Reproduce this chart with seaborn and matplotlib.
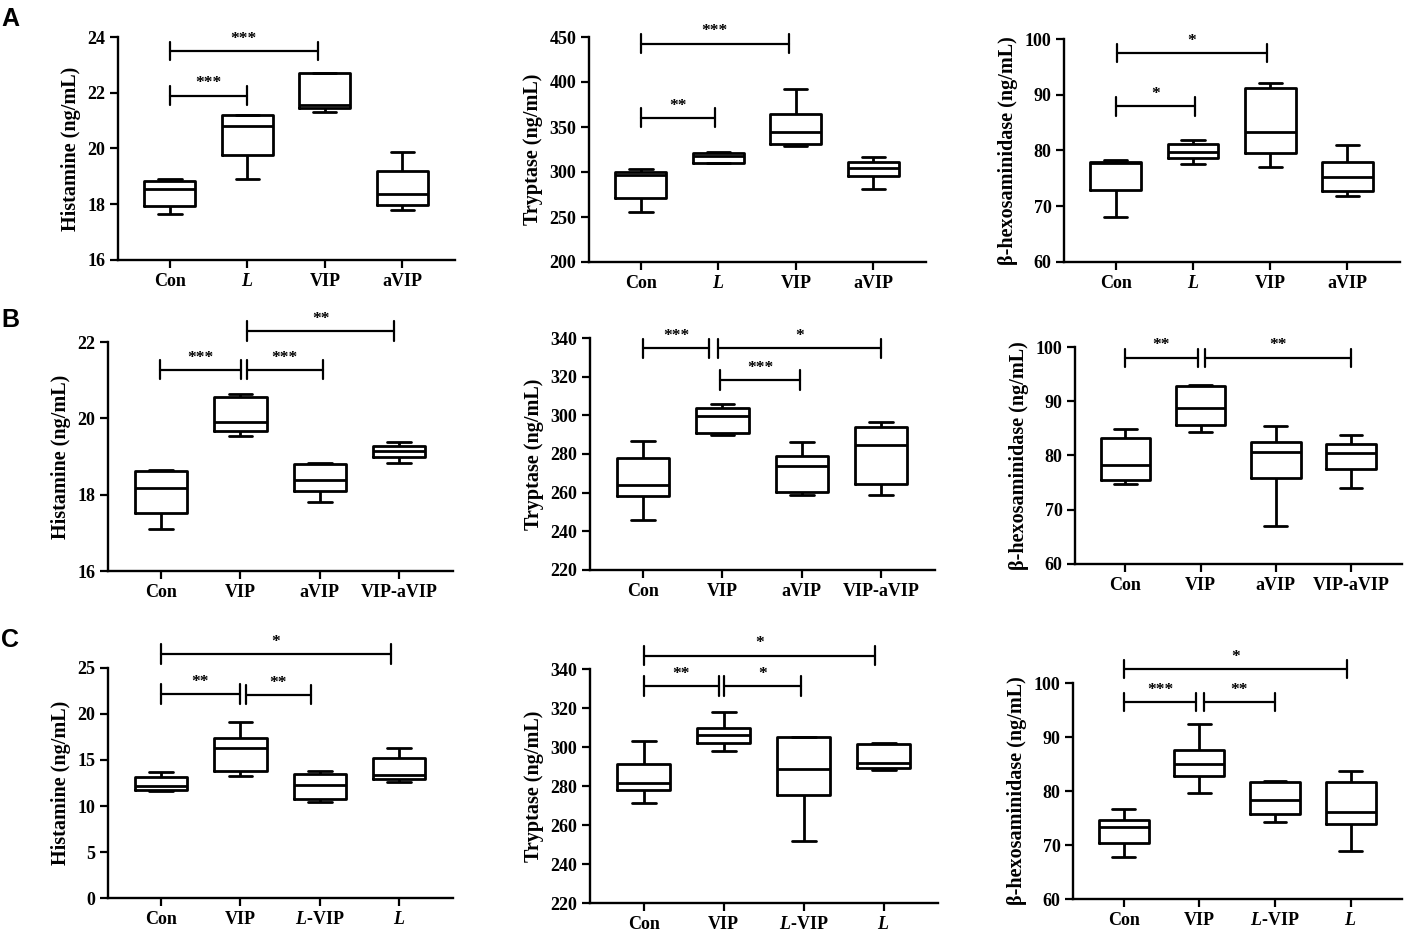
import matplotlib
matplotlib.use("Agg")
import matplotlib.pyplot as plt
import seaborn as sns
import pandas as pd

# five values per group: min, q1, median, q3, max
groups_a = ["Con", "L", "VIP", "aVIP"]
groups_b = ["Con", "VIP", "aVIP", "VIP-aVIP"]
groups_c = ["Con", "VIP", "L-VIP", "L"]

ticks_a = ["Con", "$L$", "VIP", "aVIP"]
ticks_b = ["Con", "VIP", "aVIP", "VIP-aVIP"]
ticks_c = ["Con", "VIP", "$L$-VIP", "$L$"]

hist_a = [[17.64, 17.92, 18.55, 18.85, 18.91],
          [18.91, 19.77, 20.79, 21.19, 21.19],
          [21.31, 21.46, 21.57, 22.71, 22.71],
          [17.80, 17.96, 18.37, 19.19, 19.87]]
tryp_a = [[255.4, 270.9, 296.8, 300.4, 303.0],
          [309.5, 309.7, 317.4, 320.8, 322.6],
          [329.0, 331.5, 344.0, 364.3, 392.0],
          [281.2, 295.0, 304.1, 310.8, 316.3]]
hexo_a = [[68.06, 73.0, 77.8, 77.97, 78.33],
          [77.5, 78.6, 79.7, 81.25, 81.9],
          [76.96, 79.64, 83.4, 91.16, 92.06],
          [71.76, 72.66, 75.28, 77.85, 80.96]]

hist_b = [[17.11, 17.52, 18.17, 18.63, 18.65],
          [19.55, 19.67, 19.90, 20.57, 20.65],
          [17.81, 18.09, 18.39, 18.81, 18.83],
          [18.84, 18.99, 19.14, 19.28, 19.39]]
tryp_b = [[245.7, 258.1, 264.0, 277.8, 286.8],
          [289.6, 291.0, 299.4, 303.6, 306.1],
          [258.7, 260.6, 274.0, 279.0, 286.1],
          [258.7, 264.5, 284.6, 294.1, 296.8]]
hexo_b = [[74.71, 75.44, 78.32, 83.28, 84.94],
          [84.26, 85.55, 88.8, 92.9, 92.95],
          [66.93, 75.81, 80.59, 82.49, 85.36],
          [73.97, 77.59, 80.4, 82.18, 83.77]]

hist_c = [[11.59, 11.74, 12.14, 13.12, 13.73],
          [13.30, 13.84, 16.34, 17.36, 19.13],
          [10.47, 10.80, 12.32, 13.51, 13.80],
          [12.57, 12.93, 13.41, 15.18, 16.34]]
tryp_c = [[271.1, 277.8, 281.4, 291.3, 303.0],
          [297.8, 301.9, 305.9, 310.0, 318.1],
          [251.9, 275.4, 288.7, 304.9, 305.2],
          [288.2, 289.1, 291.7, 301.4, 301.9]]
hexo_c = [[67.69, 70.34, 73.35, 74.65, 76.62],
          [79.69, 82.83, 84.92, 87.57, 92.37],
          [74.22, 75.75, 78.28, 81.72, 81.91],
          [68.80, 73.85, 76.06, 81.66, 83.69]]

# significance brackets: start, end (category index), height, stars
sig_hist_a = [(0, 1.91, 23.5, "***"), (0, 0.99, 21.9, "***")]
sig_tryp_a = [(0, 1.91, 442.6, "***"), (0, 0.95, 360.3, "**")]
sig_hexo_a = [(0.01, 1.96, 97.5, "*"), (0, 1.03, 87.9, "*")]
sig_hist_b = [(1.08, 2.94, 22.29, "**"), (-0.01, 1.01, 21.27, "***"), (1.08, 2.04, 21.27, "***")]
sig_tryp_b = [(0, 0.83, 334.6, "***"), (0.95, 3.0, 334.6, "*"), (0.975, 1.975, 318.4, "***")]
sig_hexo_b = [(0, 0.96, 98.04, "**"), (1.06, 3.0, 98.04, "**")]
sig_hist_c = [(0, 2.90, 26.52, "*"), (0, 0.99, 22.17, "**"), (1.07, 1.89, 22.1, "**")]
sig_tryp_c = [(0, 2.89, 346.9, "*"), (0, 0.94, 331.4, "**"), (1.01, 1.97, 331.4, "*")]
sig_hexo_c = [(0, 2.95, 102.6, "*"), (0, 0.96, 96.43, "***"), (1.06, 2.0, 96.43, "**")]

sns.set_theme(style="ticks")
plt.rcParams["font.family"] = ["Liberation Serif", "DejaVu Serif"]
plt.rcParams["font.weight"] = "bold"
plt.rcParams["axes.labelweight"] = "bold"
plt.rcParams["text.color"] = "black"
plt.rcParams["axes.labelcolor"] = "black"
plt.rcParams["mathtext.fontset"] = "custom"
plt.rcParams["mathtext.it"] = "Liberation Serif:italic:bold"
plt.rcParams["mathtext.rm"] = "Liberation Serif:bold"

W, H = 1406, 930
fig = plt.figure(figsize=(W / 100, H / 100), dpi=100)


def make_df(groups, values):
    rows = [(g, v) for g, vals in zip(groups, values) for v in vals]
    return pd.DataFrame(rows, columns=["group", "value"])


def panel(px, groups, ticks, values, ylab, yticks, sigs):
    left, right, top, bottom = px
    ax = fig.add_axes([left / W, 1 - bottom / H, (right - left) / W, (bottom - top) / H])
    df = make_df(groups, values)
    sns.boxplot(data=df, x="group", y="value", order=groups, ax=ax,
                whis=(0, 100), width=0.66, fill=False, color="black",
                linewidth=2.0, capwidths=0.3)
    ax.set_xlim(-0.67, 3.68)
    ax.set_ylim(yticks[0], yticks[-1])
    ax.set_yticks(yticks)
    ax.set_xticks(range(len(groups)))
    ax.set_xticklabels(ticks)
    ax.set_xlabel("")
    ax.set_ylabel(ylab, fontsize=14.5, fontweight="bold", labelpad=5)
    ax.tick_params(axis="both", labelsize=13, length=6, width=1.6, colors="black", pad=3)
    for lab in ax.get_xticklabels() + ax.get_yticklabels():
        lab.set_fontweight("bold")
    sns.despine(ax=ax)
    for s in ["left", "bottom"]:
        ax.spines[s].set_linewidth(1.7)
        ax.spines[s].set_color("black")
    rng = yticks[-1] - yticks[0]
    h = 0.042 * rng
    for x1, x2, y, txt in sigs:
        ax.plot([x1, x2], [y, y], color="black", lw=1.6, clip_on=False)
        ax.plot([x1, x1], [y - h, y + h], color="black", lw=1.6, clip_on=False)
        ax.plot([x2, x2], [y - h, y + h], color="black", lw=1.6, clip_on=False)
        ax.annotate(txt, xy=((x1 + x2) / 2, y), xytext=(0, 3), textcoords="offset points",
                    ha="center", va="bottom", fontsize=12.5, fontweight="bold",
                    color="black", annotation_clip=False)
    return ax


hist_lab = "Histamine (ng/mL)"
tryp_lab = "Tryptase (ng/mL)"
hexo_lab = "β-hexosaminidase (ng/mL)"

panel((118, 455, 37, 260), groups_a, ticks_a, hist_a, hist_lab, [16, 18, 20, 22, 24], sig_hist_a)
panel((589, 926, 37, 262), groups_a, ticks_a, tryp_a, tryp_lab, [200, 250, 300, 350, 400, 450], sig_tryp_a)
panel((1064, 1400, 39, 262), groups_a, ticks_a, hexo_a, hexo_lab, [60, 70, 80, 90, 100], sig_hexo_a)

panel((108, 453, 342, 571), groups_b, ticks_b, hist_b, hist_lab, [16, 18, 20, 22], sig_hist_b)
panel((590, 935, 338, 570), groups_b, ticks_b, tryp_b, tryp_lab, [220, 240, 260, 280, 300, 320, 340], sig_tryp_b)
panel((1075, 1402, 347, 564), groups_b, ticks_b, hexo_b, hexo_lab, [60, 70, 80, 90, 100], sig_hexo_b)

panel((108, 453, 668, 898), groups_c, ticks_c, hist_c, hist_lab, [0, 5, 10, 15, 20, 25], sig_hist_c)
panel((590, 938, 669, 903), groups_c, ticks_c, tryp_c, tryp_lab, [220, 240, 260, 280, 300, 320, 340], sig_tryp_c)
panel((1073, 1402, 683, 899), groups_c, ticks_c, hexo_c, hexo_lab, [60, 70, 80, 90, 100], sig_hexo_c)

for letter, ytop in [("A", 7), ("B", 308), ("C", 628)]:
    fig.text(0.001, 1 - ytop / H, letter, family="Liberation Sans", fontweight="bold",
             fontsize=18, ha="left", va="top", color="black")

fig.savefig("out.png", dpi=100, facecolor="white")
